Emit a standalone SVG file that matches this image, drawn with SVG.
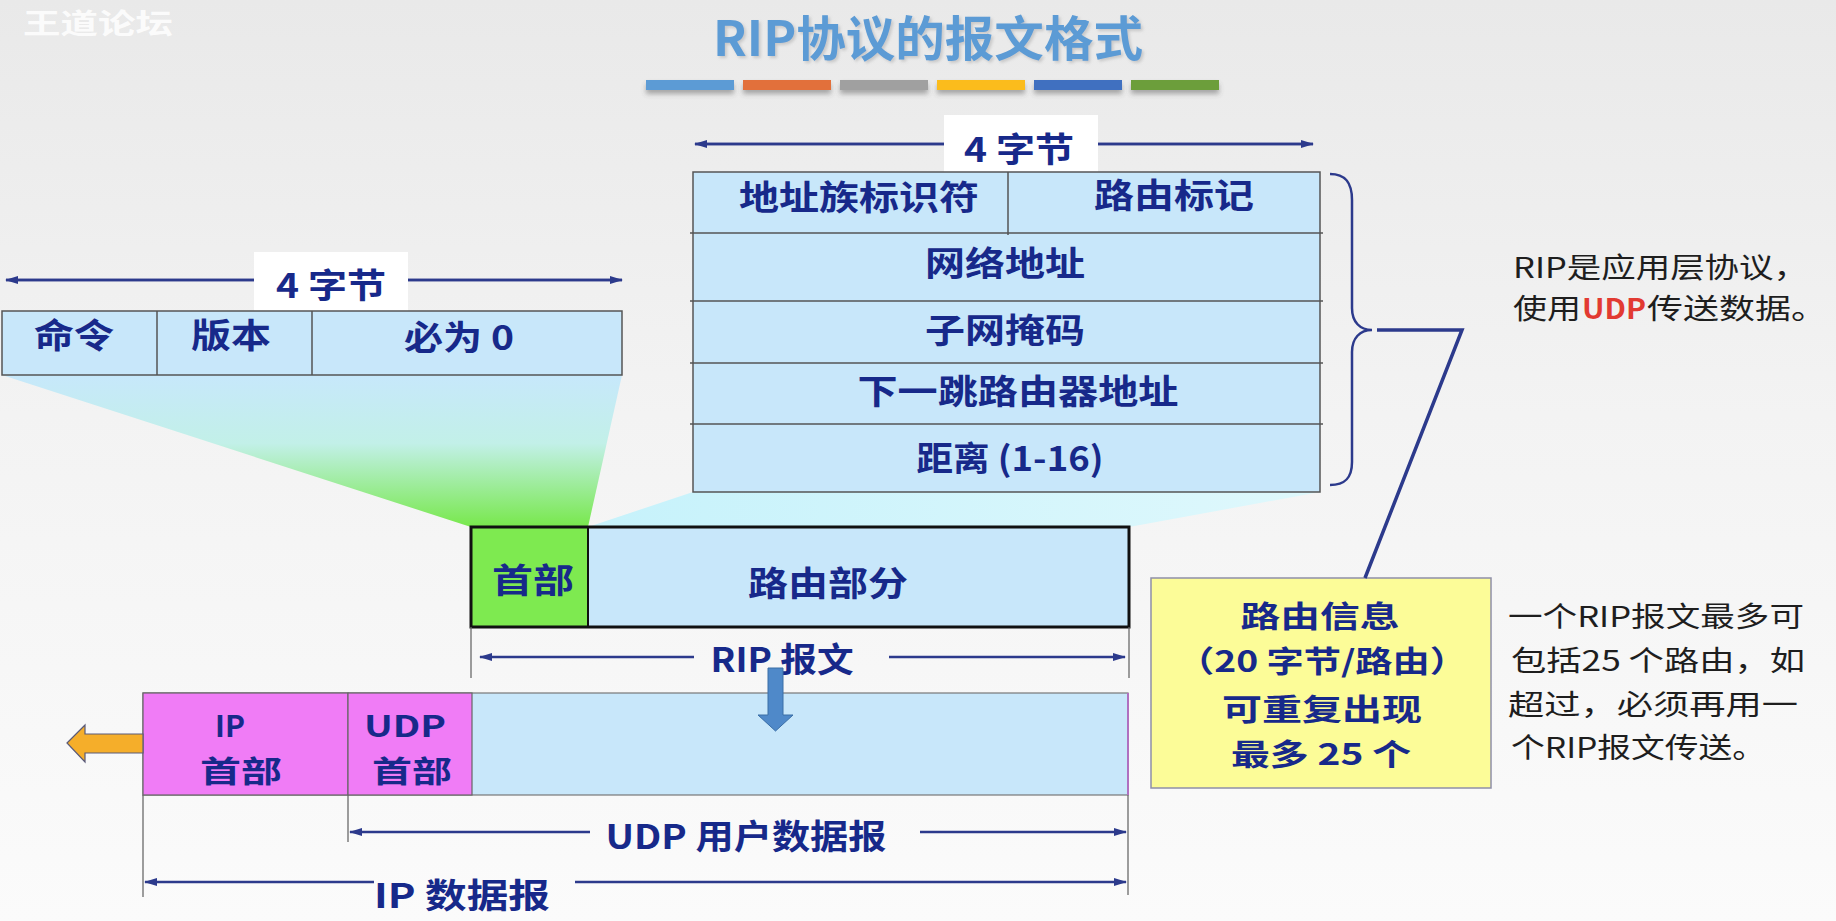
<svg xmlns="http://www.w3.org/2000/svg" width="1836" height="921" viewBox="0 0 1836 921">
<defs>
<style>
.lbl{font-family:"Noto Sans CJK SC","Noto Sans",sans-serif;font-weight:bold;font-size:34px;fill:#17298a;text-anchor:middle;dominant-baseline:central}
.sm{font-size:30px}
.note{font-family:"Noto Sans CJK SC","Noto Sans",sans-serif;font-size:28px;fill:#1e1e1e;dominant-baseline:central}
.cell{fill:#c8e7fa;stroke:#555;stroke-width:1.5}
.rowline{stroke:#555;stroke-width:1.5}
.dim{stroke:#2c3a8c;stroke-width:2.5;fill:none}
.tick{stroke:#6a6a6a;stroke-width:1.3}
.pink{fill:#f07cf6;stroke:#666;stroke-width:1.2}
.bar{filter:url(#barShadow)}
</style>
<linearGradient id="bg" x1="0" y1="0" x2="0" y2="1">
<stop offset="0" stop-color="#e9e9e9"/>
<stop offset="0.45" stop-color="#f3f3f3"/>
<stop offset="1" stop-color="#fbfbfb"/>
</linearGradient>
<linearGradient id="funnelL" x1="0" y1="0" x2="0" y2="1">
<stop offset="0" stop-color="#c7e8fb"/>
<stop offset="0.45" stop-color="#c2f0e8"/>
<stop offset="1" stop-color="#78e84c"/>
</linearGradient>
<linearGradient id="funnelR" x1="0" y1="0" x2="1" y2="0">
<stop offset="0" stop-color="#c6f2fb"/>
<stop offset="1" stop-color="#dff8fc"/>
</linearGradient>
<filter id="barShadow" x="-10%" y="-50%" width="120%" height="250%">
<feDropShadow dx="0" dy="4" stdDeviation="2.5" flood-color="#555" flood-opacity="0.45"/>
</filter>
<filter id="titleShadow" x="-5%" y="-20%" width="110%" height="150%">
<feDropShadow dx="2" dy="2" stdDeviation="1.5" flood-color="#888" flood-opacity="0.35"/>
</filter>
<marker id="ah" markerWidth="13" markerHeight="10" refX="12" refY="5" orient="auto" markerUnits="userSpaceOnUse">
<path d="M0,1 L13,5 L0,9 Z" fill="#2c3a8c"/>
</marker>
</defs>

<rect x="0" y="0" width="1836" height="921" fill="url(#bg)"/>

<g id="watermark">
<text x="23" y="22" font-family="'Noto Sans CJK SC',sans-serif" font-weight="bold" font-size="28" fill="#ffffff" fill-opacity="0.85" dominant-baseline="central" textLength="150" lengthAdjust="spacingAndGlyphs">王道论坛</text>
</g>

<g id="title">
<text x="928" y="35" font-family="'Noto Sans CJK SC','Noto Sans',sans-serif" font-weight="bold" font-size="48" fill="#5b9bd5" text-anchor="middle" dominant-baseline="central" textLength="430" lengthAdjust="spacingAndGlyphs" filter="url(#titleShadow)">RIP协议的报文格式</text>
<rect class="bar" x="646" y="80" width="88" height="10" fill="#5b9bd5"/>
<rect class="bar" x="743" y="80" width="88" height="10" fill="#e2703a"/>
<rect class="bar" x="840" y="80" width="88" height="10" fill="#a0a0a0"/>
<rect class="bar" x="937" y="80" width="88" height="10" fill="#fbbc1e"/>
<rect class="bar" x="1034" y="80" width="88" height="10" fill="#4170c0"/>
<rect class="bar" x="1131" y="80" width="88" height="10" fill="#6c9e3a"/>
</g>

<g id="funnels">
<polygon points="2,375 622,375 588,527 471,527" fill="url(#funnelL)"/>
<polygon points="693,492 1320,492 1129,527 588,527" fill="url(#funnelR)"/>
</g>

<g id="header-fields">
<line class="dim" x1="622" y1="280" x2="6" y2="280" marker-end="url(#ah)"/>
<line class="dim" x1="6" y1="280" x2="622" y2="280" marker-end="url(#ah)"/>
<rect x="254" y="252" width="154" height="59" fill="#ffffff"/>
<text class="lbl" x="331" y="283" textLength="110" lengthAdjust="spacingAndGlyphs">4 字节</text>
<rect class="cell" x="2" y="311" width="620" height="64"/>
<line class="rowline" x1="157" y1="311" x2="157" y2="375"/>
<line class="rowline" x1="312" y1="311" x2="312" y2="375"/>
<text class="lbl" x="74" y="333" textLength="80" lengthAdjust="spacingAndGlyphs">命令</text>
<text class="lbl" x="231" y="333" textLength="80" lengthAdjust="spacingAndGlyphs">版本</text>
<text class="lbl" x="459" y="335" textLength="110" lengthAdjust="spacingAndGlyphs">必为 0</text>
</g>

<g id="route-entry">
<line class="dim" x1="1313" y1="144" x2="695" y2="144" marker-end="url(#ah)"/>
<line class="dim" x1="695" y1="144" x2="1313" y2="144" marker-end="url(#ah)"/>
<rect x="944" y="115" width="154" height="57" fill="#ffffff"/>
<text class="lbl" x="1019" y="147" textLength="110" lengthAdjust="spacingAndGlyphs">4 字节</text>
<rect class="cell" x="693" y="172" width="627" height="320"/>
<line class="rowline" x1="690" y1="233" x2="1323" y2="233"/>
<line class="rowline" x1="690" y1="301" x2="1323" y2="301"/>
<line class="rowline" x1="690" y1="363" x2="1323" y2="363"/>
<line class="rowline" x1="690" y1="424" x2="1323" y2="424"/>
<line class="rowline" x1="1008" y1="172" x2="1008" y2="235"/>
<text class="lbl" x="859" y="195" textLength="240" lengthAdjust="spacingAndGlyphs">地址族标识符</text>
<text class="lbl" x="1174" y="193" textLength="160" lengthAdjust="spacingAndGlyphs">路由标记</text>
<text class="lbl" x="1005" y="261" textLength="160" lengthAdjust="spacingAndGlyphs">网络地址</text>
<text class="lbl" x="1005" y="328" textLength="160" lengthAdjust="spacingAndGlyphs">子网掩码</text>
<text class="lbl" x="1018" y="389" textLength="321" lengthAdjust="spacingAndGlyphs">下一跳路由器地址</text>
<text class="lbl" x="1010" y="456" textLength="187" lengthAdjust="spacingAndGlyphs">距离 (1-16)</text>
</g>

<g id="rip-message">
<rect x="471" y="527" width="117" height="100" fill="#7eea50"/>
<rect x="588" y="527" width="541" height="100" fill="#c8e7fa"/>
<rect x="471" y="527" width="658" height="100" fill="none" stroke="#111" stroke-width="3"/>
<line x1="588" y1="527" x2="588" y2="627" stroke="#111" stroke-width="2"/>
<text class="lbl" x="533" y="578" textLength="82" lengthAdjust="spacingAndGlyphs">首部</text>
<text class="lbl" x="828" y="581" textLength="160" lengthAdjust="spacingAndGlyphs">路由部分</text>
<text class="lbl" x="782" y="657" textLength="143" lengthAdjust="spacingAndGlyphs">RIP 报文</text>
</g>

<g id="ip-datagram">
<rect x="143" y="693" width="985" height="102" fill="#c8e7fa" stroke="#777" stroke-width="1.2"/>
<rect class="pink" x="143" y="693" width="205" height="102"/>
<rect class="pink" x="348" y="693" width="124" height="102"/>
<line x1="1128" y1="693" x2="1128" y2="795" stroke="#b070c0" stroke-width="2"/>
<text class="lbl sm" x="230" y="724">IP</text>
<text class="lbl sm" x="241" y="769" textLength="82" lengthAdjust="spacingAndGlyphs">首部</text>
<text class="lbl sm" x="405" y="724" textLength="82" lengthAdjust="spacingAndGlyphs">UDP</text>
<text class="lbl sm" x="412" y="769" textLength="80" lengthAdjust="spacingAndGlyphs">首部</text>
<text class="lbl" x="746" y="834" textLength="281" lengthAdjust="spacingAndGlyphs">UDP 用户数据报</text>
<text class="lbl" x="462" y="893" textLength="176" lengthAdjust="spacingAndGlyphs">IP 数据报</text>
</g>

<g id="route-info">
<rect x="1151" y="578" width="340" height="210" fill="#fcfc98" stroke="#8f8fa8" stroke-width="1.5"/>
<text class="lbl sm" x="1320" y="614" textLength="159" lengthAdjust="spacingAndGlyphs">路由信息</text>
<text class="lbl sm" x="1322" y="659" textLength="290" lengthAdjust="spacingAndGlyphs">（20 字节/路由）</text>
<text class="lbl sm" x="1322" y="707" textLength="200" lengthAdjust="spacingAndGlyphs">可重复出现</text>
<text class="lbl sm" x="1321" y="752" textLength="180" lengthAdjust="spacingAndGlyphs">最多 25 个</text>
</g>

<g id="note-udp">
<text class="note" x="1513" y="266" textLength="295" lengthAdjust="spacingAndGlyphs">RIP是应用层协议，</text>
<text class="note" x="1513" y="307" textLength="68" lengthAdjust="spacingAndGlyphs">使用</text>
<text class="note" x="1582" y="307" textLength="64" lengthAdjust="spacingAndGlyphs" font-weight="bold" style="fill:#e23a32">UDP</text>
<text class="note" x="1647" y="307" textLength="180" lengthAdjust="spacingAndGlyphs">传送数据。</text>
</g>

<g id="note-limit">
<text class="note" x="1508" y="615" textLength="296" lengthAdjust="spacingAndGlyphs">一个RIP报文最多可</text>
<text class="note" x="1511" y="659" textLength="294" lengthAdjust="spacingAndGlyphs">包括25 个路由，如</text>
<text class="note" x="1508" y="703" textLength="290" lengthAdjust="spacingAndGlyphs">超过，必须再用一</text>
<text class="note" x="1511" y="746" textLength="255" lengthAdjust="spacingAndGlyphs">个RIP报文传送。</text>
</g>

<g id="connectors">
<line class="tick" x1="471" y1="627" x2="471" y2="678"/>
<line class="tick" x1="1129" y1="627" x2="1129" y2="678"/>
<line class="dim" x1="694" y1="657" x2="480" y2="657" marker-end="url(#ah)"/>
<line class="dim" x1="889" y1="657" x2="1125" y2="657" marker-end="url(#ah)"/>
<line class="tick" x1="143" y1="795" x2="143" y2="897"/>
<line class="tick" x1="348" y1="795" x2="348" y2="842"/>
<line class="tick" x1="1128" y1="795" x2="1128" y2="895"/>
<line class="dim" x1="590" y1="832" x2="350" y2="832" marker-end="url(#ah)"/>
<line class="dim" x1="920" y1="832" x2="1126" y2="832" marker-end="url(#ah)"/>
<line class="dim" x1="374" y1="882" x2="145" y2="882" marker-end="url(#ah)"/>
<line class="dim" x1="575" y1="882" x2="1126" y2="882" marker-end="url(#ah)"/>
<path d="M1330,174 C1345,174 1352,182 1352,200 L1352,308 C1352,322 1360,330 1372,330 C1360,330 1352,338 1352,352 L1352,462 C1352,478 1345,485 1330,485" fill="none" stroke="#2c3a8c" stroke-width="2.5"/>
<path d="M1377,330 L1462,330 L1365,578" fill="none" stroke="#2c3a8c" stroke-width="3.5" stroke-linejoin="miter"/>
<polygon points="768,668 783,668 783,715 793,715 775.5,731 758,715 768,715" fill="#4f89c9" stroke="#3a6ea6" stroke-width="1"/>
<polygon points="67,743 85,725 85,734 143,734 143,753 85,753 85,762" fill="#f5ae2a" stroke="#5a5a78" stroke-width="1.2"/>
</g>
</svg>
